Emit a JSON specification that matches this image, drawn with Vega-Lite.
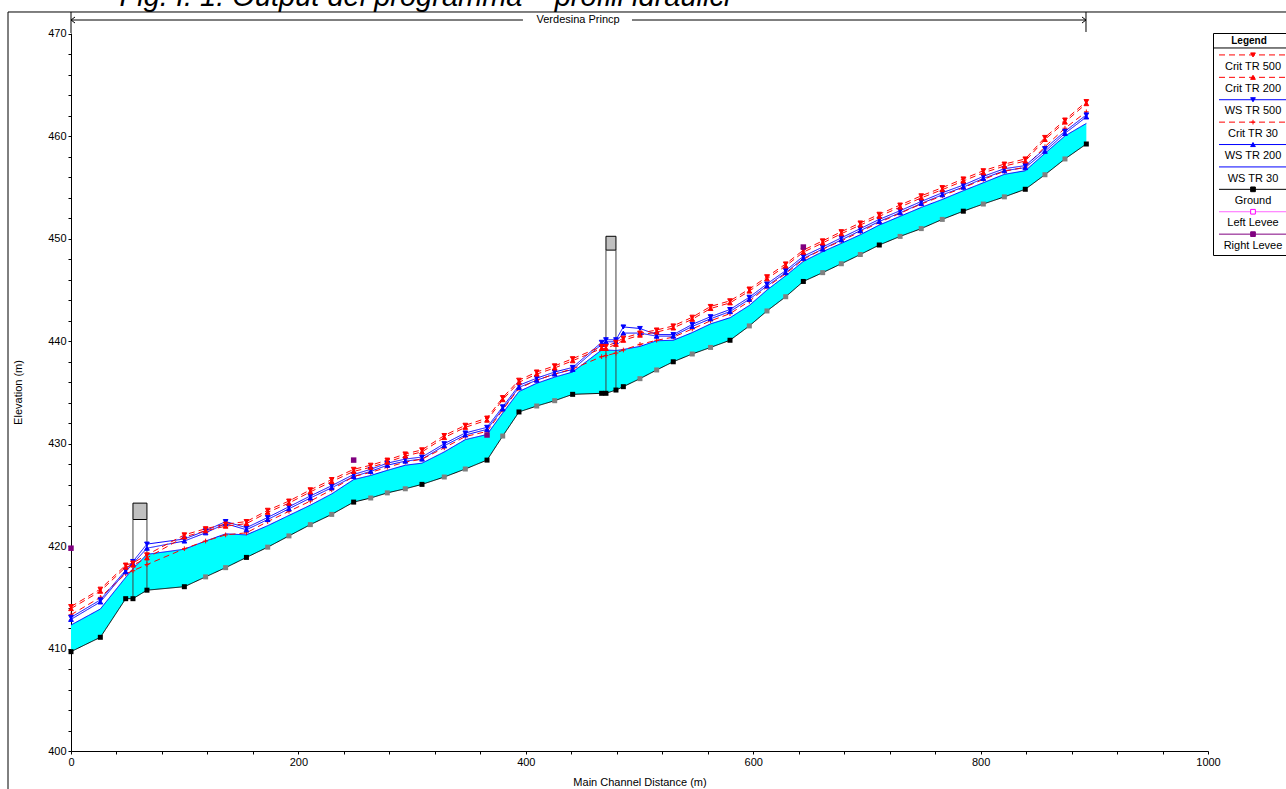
{
  "$schema": "https://vega.github.io/schema/vega-lite/v6.json",
  "autosize": {"type": "none"},
  "padding": {"left": 71, "top": 33, "right": 1215, "bottom": 756},
  "bounds": "flush",
  "spacing": 5,
  "background": "white",
  "title": {
    "text": "Fig. I. 1. Output del programma – profili idraulici",
    "anchor": "start",
    "fontSize": 29,
    "fontStyle": "italic",
    "fontWeight": "normal",
    "font": "Liberation Sans",
    "color": "#000000",
    "baseline": "alphabetic",
    "offset": 1,
    "dx": 112,
    "dy": 25
  },
  "config": {
    "view": {"stroke": null},
    "axis": {
      "grid": false,
      "labelOverlap": false,
      "domainColor": "#000000",
      "tickColor": "#000000",
      "labelColor": "#000000",
      "titleColor": "#000000",
      "titleFontWeight": "normal",
      "labelFont": "Liberation Sans Narrow, Liberation Sans, Arial, sans-serif",
      "titleFont": "Liberation Sans Narrow, Liberation Sans, Arial, sans-serif",
      "labelFontSize": 11,
      "titleFontSize": 11
    }
  },
  "datasets": {
    "stations": [
      {"x": 0, "ground": 409.7, "xs": "real", "ws30": 412.3, "ws200": 412.85, "ws500": 413.05, "crit30": 413.3, "crit200": 413.9, "crit500": 414.1},
      {"x": 25.8, "ground": 411.1, "xs": "real", "ws30": 413.86, "ws200": 414.55, "ws500": 414.75, "crit30": 415.0, "crit200": 415.6, "crit500": 415.8},
      {"x": 48.1, "ground": 414.87, "xs": "real", "ws30": 416.95, "ws200": 417.5, "ws500": 417.65, "crit30": 417.3, "crit200": 417.95, "crit500": 418.15},
      {"x": 54.5, "ground": 414.87, "xs": "real", "ws30": 417.8, "ws200": 418.3, "ws500": 418.5, "crit30": 417.6, "crit200": 418.15, "crit500": 418.35},
      {"x": 66.8, "ground": 415.7, "xs": "real", "ws30": 419.2, "ws200": 419.8, "ws500": 420.2, "crit30": 418.2, "crit200": 418.85, "crit500": 419.15},
      {"x": 99.7, "ground": 416.04, "xs": "real", "ws30": 419.7, "ws200": 420.5, "ws500": 420.7, "crit30": 419.75, "crit200": 420.9, "crit500": 421.1},
      {"x": 118.4, "ground": 417.0, "xs": "interp", "ws30": 420.5, "ws200": 421.3, "ws500": 421.5, "crit30": 420.5, "crit200": 421.5, "crit500": 421.7},
      {"x": 136, "ground": 417.9, "xs": "interp", "ws30": 421.2, "ws200": 422.2, "ws500": 422.4, "crit30": 421.1, "crit200": 421.95, "crit500": 422.15},
      {"x": 154.3, "ground": 418.9, "xs": "real", "ws30": 421.1, "ws200": 421.6, "ws500": 421.8, "crit30": 421.3, "crit200": 422.2, "crit500": 422.4},
      {"x": 173, "ground": 419.9, "xs": "interp", "ws30": 422.0, "ws200": 422.6, "ws500": 422.8, "crit30": 422.4, "crit200": 423.3, "crit500": 423.5},
      {"x": 191.7, "ground": 421.0, "xs": "interp", "ws30": 423.0, "ws200": 423.65, "ws500": 423.85, "crit30": 423.4, "crit200": 424.2, "crit500": 424.4},
      {"x": 210.5, "ground": 422.1, "xs": "interp", "ws30": 424.0, "ws200": 424.7, "ws500": 424.9, "crit30": 424.4, "crit200": 425.3, "crit500": 425.5},
      {"x": 229.3, "ground": 423.1, "xs": "interp", "ws30": 425.1, "ws200": 425.7, "ws500": 425.9, "crit30": 425.5, "crit200": 426.3, "crit500": 426.5},
      {"x": 248.6, "ground": 424.3, "xs": "real", "ws30": 426.5, "ws200": 426.8, "ws500": 427.0, "crit30": 426.8, "crit200": 427.3, "crit500": 427.5},
      {"x": 263.6, "ground": 424.7, "xs": "interp", "ws30": 426.9, "ws200": 427.3, "ws500": 427.5, "crit30": 427.2, "crit200": 427.7, "crit500": 427.9},
      {"x": 278.2, "ground": 425.2, "xs": "interp", "ws30": 427.4, "ws200": 427.9, "ws500": 428.1, "crit30": 427.7, "crit200": 428.2, "crit500": 428.4},
      {"x": 294, "ground": 425.6, "xs": "interp", "ws30": 427.9, "ws200": 428.3, "ws500": 428.5, "crit30": 428.2, "crit200": 428.8, "crit500": 429.0},
      {"x": 308.7, "ground": 426.03, "xs": "real", "ws30": 428.1, "ws200": 428.5, "ws500": 428.7, "crit30": 428.5, "crit200": 429.2, "crit500": 429.4},
      {"x": 328.3, "ground": 426.75, "xs": "interp", "ws30": 429.2, "ws200": 429.8, "ws500": 430.0, "crit30": 429.6, "crit200": 430.6, "crit500": 430.8},
      {"x": 346.8, "ground": 427.53, "xs": "interp", "ws30": 430.4, "ws200": 430.85, "ws500": 431.05, "crit30": 430.7, "crit200": 431.6, "crit500": 431.8},
      {"x": 365.9, "ground": 428.4, "xs": "real", "ws30": 430.9, "ws200": 431.4, "ws500": 431.6, "crit30": 431.2, "crit200": 432.3, "crit500": 432.5},
      {"x": 379.7, "ground": 430.75, "xs": "interp", "ws30": 433.0, "ws200": 433.4, "ws500": 433.6, "crit30": 433.3, "crit200": 434.3, "crit500": 434.5},
      {"x": 394, "ground": 433.1, "xs": "real", "ws30": 435.1, "ws200": 435.5, "ws500": 435.7, "crit30": 435.4, "crit200": 436.0, "crit500": 436.2},
      {"x": 409.6, "ground": 433.68, "xs": "interp", "ws30": 435.9, "ws200": 436.2, "ws500": 436.4, "crit30": 436.2, "crit200": 436.8, "crit500": 437.0},
      {"x": 425.4, "ground": 434.2, "xs": "interp", "ws30": 436.5, "ws200": 436.8, "ws500": 437.0, "crit30": 436.8, "crit200": 437.4, "crit500": 437.6},
      {"x": 441.2, "ground": 434.82, "xs": "real", "ws30": 437.0, "ws200": 437.25, "ws500": 437.45, "crit30": 437.3, "crit200": 438.1, "crit500": 438.3},
      {"x": 466.7, "ground": 434.92, "xs": "real", "ws30": 439.15, "ws200": 439.7, "ws500": 439.9, "crit30": 438.5, "crit200": 439.3, "crit500": 439.5},
      {"x": 470.5, "ground": 434.92, "xs": "real", "ws30": 439.15, "ws200": 439.95, "ws500": 440.15, "crit30": 438.6, "crit200": 439.3, "crit500": 439.5},
      {"x": 479.3, "ground": 435.24, "xs": "real", "ws30": 439.1, "ws200": 439.95, "ws500": 440.15, "crit30": 438.85, "crit200": 439.7, "crit500": 439.9},
      {"x": 485.8, "ground": 435.57, "xs": "real", "ws30": 439.2, "ws200": 440.8, "ws500": 441.4, "crit30": 439.15, "crit200": 440.1, "crit500": 440.3},
      {"x": 500.4, "ground": 436.35, "xs": "interp", "ws30": 439.5, "ws200": 440.8, "ws500": 441.25, "crit30": 439.7, "crit200": 440.6, "crit500": 440.8},
      {"x": 515.1, "ground": 437.2, "xs": "interp", "ws30": 440.05, "ws200": 440.5, "ws500": 440.65, "crit30": 440.1, "crit200": 440.9, "crit500": 441.1},
      {"x": 529.7, "ground": 438.0, "xs": "real", "ws30": 440.1, "ws200": 440.5, "ws500": 440.65, "crit30": 440.4, "crit200": 441.3, "crit500": 441.5},
      {"x": 546.4, "ground": 438.76, "xs": "interp", "ws30": 440.85, "ws200": 441.45, "ws500": 441.65, "crit30": 441.2, "crit200": 442.15, "crit500": 442.35},
      {"x": 562.5, "ground": 439.4, "xs": "interp", "ws30": 441.7, "ws200": 442.2, "ws500": 442.4, "crit30": 442.0, "crit200": 443.2, "crit500": 443.4},
      {"x": 579.6, "ground": 440.1, "xs": "real", "ws30": 442.3, "ws200": 442.9, "ws500": 443.1, "crit30": 442.7, "crit200": 443.75, "crit500": 443.95},
      {"x": 596.6, "ground": 441.5, "xs": "interp", "ws30": 443.5, "ws200": 444.1, "ws500": 444.3, "crit30": 443.9, "crit200": 444.9, "crit500": 445.1},
      {"x": 612.1, "ground": 442.96, "xs": "interp", "ws30": 445.0, "ws200": 445.4, "ws500": 445.6, "crit30": 445.3, "crit200": 446.1, "crit500": 446.3},
      {"x": 628.6, "ground": 444.35, "xs": "interp", "ws30": 446.4, "ws200": 446.7, "ws500": 446.9, "crit30": 446.6, "crit200": 447.35, "crit500": 447.55},
      {"x": 644.1, "ground": 445.84, "xs": "real", "ws30": 447.8, "ws200": 448.1, "ws500": 448.3, "crit30": 448.0, "crit200": 448.7, "crit500": 448.9},
      {"x": 661.1, "ground": 446.7, "xs": "interp", "ws30": 448.75, "ws200": 449.0, "ws500": 449.2, "crit30": 449.0, "crit200": 449.6, "crit500": 449.8},
      {"x": 677.5, "ground": 447.57, "xs": "interp", "ws30": 449.56, "ws200": 449.9, "ws500": 450.1, "crit30": 449.8, "crit200": 450.5, "crit500": 450.7},
      {"x": 694.2, "ground": 448.47, "xs": "interp", "ws30": 450.4, "ws200": 450.8, "ws500": 451.0, "crit30": 450.7, "crit200": 451.35, "crit500": 451.55},
      {"x": 710.9, "ground": 449.4, "xs": "real", "ws30": 451.35, "ws200": 451.7, "ws500": 451.9, "crit30": 451.6, "crit200": 452.2, "crit500": 452.4},
      {"x": 729.2, "ground": 450.24, "xs": "interp", "ws30": 452.2, "ws200": 452.55, "ws500": 452.75, "crit30": 452.5, "crit200": 453.1, "crit500": 453.3},
      {"x": 747.8, "ground": 451.0, "xs": "interp", "ws30": 453.07, "ws200": 453.45, "ws500": 453.65, "crit30": 453.4, "crit200": 454.0, "crit500": 454.2},
      {"x": 766.3, "ground": 451.9, "xs": "interp", "ws30": 453.85, "ws200": 454.3, "ws500": 454.5, "crit30": 454.2, "crit200": 454.8, "crit500": 455.0},
      {"x": 784.8, "ground": 452.7, "xs": "real", "ws30": 454.7, "ws200": 455.05, "ws500": 455.25, "crit30": 455.0, "crit200": 455.65, "crit500": 455.85},
      {"x": 802.4, "ground": 453.4, "xs": "interp", "ws30": 455.48, "ws200": 455.9, "ws500": 456.1, "crit30": 455.8, "crit200": 456.45, "crit500": 456.65},
      {"x": 820.9, "ground": 454.1, "xs": "interp", "ws30": 456.3, "ws200": 456.65, "ws500": 456.85, "crit30": 456.6, "crit200": 457.1, "crit500": 457.3},
      {"x": 839.3, "ground": 454.84, "xs": "real", "ws30": 456.65, "ws200": 456.95, "ws500": 457.15, "crit30": 457.0, "crit200": 457.6, "crit500": 457.8},
      {"x": 856.6, "ground": 456.26, "xs": "interp", "ws30": 458.35, "ws200": 458.55, "ws500": 458.8, "crit30": 459.0, "crit200": 459.7, "crit500": 459.9},
      {"x": 874.2, "ground": 457.8, "xs": "interp", "ws30": 460.05, "ws200": 460.3, "ws500": 460.5, "crit30": 460.8, "crit200": 461.4, "crit500": 461.6},
      {"x": 893, "ground": 459.26, "xs": "real", "ws30": 461.27, "ws200": 461.9, "ws500": 462.1, "crit30": 462.4, "crit200": 463.2, "crit500": 463.4}
    ],
    "bridges": [
      {"x1": 54.5, "x2": 66.8, "ground1": 414.87, "ground2": 415.7, "low": 422.6, "high": 424.2},
      {"x1": 470.5, "x2": 479.3, "ground1": 434.92, "ground2": 435.24, "low": 448.9, "high": 450.25}
    ],
    "levees": [
      {"x": 0, "elev": 419.8},
      {"x": 248.6, "elev": 428.4},
      {"x": 365.9, "elev": 430.85},
      {"x": 644.1, "elev": 449.2}
    ],
    "reachSegments": [
      {"from": 0, "to": 397.5},
      {"from": 493.4, "to": 892.7}
    ],
    "reachEnds": [
      {"x": 0, "end": "upstream"},
      {"x": 892.7, "end": "downstream"}
    ],
    "reachLabel": [
      {"x": 446, "label": "Verdesina Princp"}
    ],
    "legendRows": [
      {"name": "Crit TR 500"},
      {"name": "Crit TR 200"},
      {"name": "WS TR 500"},
      {"name": "Crit TR 30"},
      {"name": "WS TR 200"},
      {"name": "WS TR 30"},
      {"name": "Ground"},
      {"name": "Left Levee"},
      {"name": "Right Levee"}
    ]
  },
  "resolve": {"scale": {"x": "independent", "y": "independent", "color": "independent", "fill": "independent", "stroke": "independent", "shape": "independent", "strokeDash": "independent", "size": "independent"}},
  "hconcat": [
    {
      "width": 1137,
      "height": 718,
      "resolve": {"scale": {"color": "independent", "fill": "independent", "stroke": "independent", "shape": "independent", "strokeDash": "independent", "size": "independent"}, "axis": {"y": "independent"}},
      "layer": [
        {
          "data": {"name": "stations"},
          "mark": {"type": "area", "color": "#00ffff", "opacity": 1},
          "encoding": {
            "x": {"field": "x", "type": "quantitative", "scale": {"domain": [0, 1000], "nice": false, "zero": false},
              "axis": {"title": "Main Channel Distance (m)", "values": [0,40,80,120,160,200,240,280,320,360,400,440,480,520,560,600,640,680,720,760,800,840,880,920,960,1000], "format": "d", "labelExpr": "datum.value % 200 === 0 ? datum.label : ''", "tickSize": 3, "labelPadding": 2, "labelFlush": false, "labelOverlap": false, "titlePadding": 9}},
            "y": {"field": "ws30", "type": "quantitative", "scale": {"domain": [400, 470.097], "nice": false, "zero": false},
              "axis": {"orient": "left", "title": "Elevation (m)", "values": [400,410,420,430,440,450,460,470], "format": "d", "tickSize": 3, "labelPadding": 2, "labelFlush": false, "labelOverlap": false, "titlePadding": 24}},
            "y2": {"field": "ground"}
          }
        },
        {
          "data": {"name": "bridges"},
          "mark": {"type": "rect", "fill": "#c0c0c0", "stroke": "#000000", "strokeWidth": 1},
          "encoding": {
            "x": {"field": "x1", "type": "quantitative", "scale": {"domain": [0, 1000], "nice": false, "zero": false}},
            "x2": {"field": "x2"},
            "y": {"field": "low", "type": "quantitative", "scale": {"domain": [400, 470.097], "nice": false, "zero": false},
              "axis": {"orient": "left", "title": null, "values": [402,404,406,408,412,414,416,418,422,424,426,428,432,434,436,438,442,444,446,448,452,454,456,458,462,464,466,468], "labels": false, "domain": false, "tickSize": 3}},
            "y2": {"field": "high"}
          }
        },
        {
          "data": {"name": "bridges"},
          "mark": {"type": "rule", "color": "#404040", "strokeWidth": 1},
          "encoding": {
            "x": {"field": "x1", "type": "quantitative", "scale": {"domain": [0, 1000], "nice": false, "zero": false}},
            "y": {"field": "ground1", "type": "quantitative", "scale": {"domain": [400, 470.097], "nice": false, "zero": false}, "axis": null},
            "y2": {"field": "low"}
          }
        },
        {
          "data": {"name": "bridges"},
          "mark": {"type": "rule", "color": "#404040", "strokeWidth": 1},
          "encoding": {
            "x": {"field": "x2", "type": "quantitative", "scale": {"domain": [0, 1000], "nice": false, "zero": false}},
            "y": {"field": "ground2", "type": "quantitative", "scale": {"domain": [400, 470.097], "nice": false, "zero": false}, "axis": null},
            "y2": {"field": "low"}
          }
        },
        {
          "data": {"name": "stations"},
          "transform": [{"fold": ["ground", "ws30", "ws200", "crit30", "ws500", "crit200", "crit500"], "as": ["series", "value"]}],
          "mark": {"type": "line", "strokeWidth": 1},
          "encoding": {
            "x": {"field": "x", "type": "quantitative", "scale": {"domain": [0, 1000], "nice": false, "zero": false}},
            "y": {"field": "value", "type": "quantitative", "scale": {"domain": [400, 470.097], "nice": false, "zero": false}, "axis": null},
            "color": {"field": "series", "type": "nominal", "legend": null,
              "scale": {"domain": ["crit500", "crit200", "ws500", "crit30", "ws200", "ws30", "ground"], "range": ["#ff0000", "#ff0000", "#0000ff", "#ff0000", "#0000ff", "#0000ff", "#000000"]}},
            "strokeDash": {"field": "series", "type": "nominal", "legend": null,
              "scale": {"domain": ["crit500", "crit200", "ws500", "crit30", "ws200", "ws30", "ground"], "range": [[6, 4], [6, 4], [1, 0], [6, 4], [1, 0], [1, 0], [1, 0]]}}
          }
        },
        {
          "data": {"name": "stations"},
          "transform": [{"fold": ["crit30", "ws200", "ws500", "crit200", "crit500"], "as": ["series", "value"]}],
          "mark": {"type": "point", "filled": true, "strokeWidth": 1, "opacity": 1},
          "encoding": {
            "x": {"field": "x", "type": "quantitative", "scale": {"domain": [0, 1000], "nice": false, "zero": false}},
            "y": {"field": "value", "type": "quantitative", "scale": {"domain": [400, 470.097], "nice": false, "zero": false}, "axis": null},
            "shape": {"field": "series", "type": "nominal", "legend": null,
              "scale": {"domain": ["crit500", "crit200", "ws500", "crit30", "ws200"], "range": ["triangle-down", "triangle-up", "triangle-down", "M-1,0H1M0,-1V1", "triangle-up"]}},
            "fill": {"field": "series", "type": "nominal", "legend": null,
              "scale": {"domain": ["crit500", "crit200", "ws500", "crit30", "ws200"], "range": ["#ff0000", "#ff0000", "#0000ff", "transparent", "#0000ff"]}},
            "stroke": {"field": "series", "type": "nominal", "legend": null,
              "scale": {"domain": ["crit500", "crit200", "ws500", "crit30", "ws200"], "range": ["#ff0000", "#ff0000", "#0000ff", "#ff0000", "#0000ff"]}},
            "size": {"field": "series", "type": "nominal", "legend": null,
              "scale": {"domain": ["crit500", "crit200", "ws500", "crit30", "ws200"], "range": [22, 22, 22, 40, 22]}}
          }
        },
        {
          "data": {"name": "stations"},
          "mark": {"type": "square", "size": 25, "opacity": 1},
          "encoding": {
            "x": {"field": "x", "type": "quantitative", "scale": {"domain": [0, 1000], "nice": false, "zero": false}},
            "y": {"field": "ground", "type": "quantitative", "scale": {"domain": [400, 470.097], "nice": false, "zero": false}, "axis": null},
            "color": {"field": "xs", "type": "nominal", "legend": null, "scale": {"domain": ["real", "interp"], "range": ["#000000", "#808080"]}}
          }
        },
        {
          "data": {"name": "levees"},
          "mark": {"type": "square", "size": 30, "color": "#800080", "opacity": 1},
          "encoding": {
            "x": {"field": "x", "type": "quantitative", "scale": {"domain": [0, 1000], "nice": false, "zero": false}},
            "y": {"field": "elev", "type": "quantitative", "scale": {"domain": [400, 470.097], "nice": false, "zero": false}, "axis": null}
          }
        },
        {
          "data": {"name": "reachSegments"},
          "mark": {"type": "rule", "color": "#000000", "strokeWidth": 1},
          "encoding": {
            "x": {"field": "from", "type": "quantitative", "scale": {"domain": [0, 1000], "nice": false, "zero": false}},
            "x2": {"field": "to"},
            "y": {"datum": 471.366, "type": "quantitative", "scale": {"domain": [400, 470.097], "nice": false, "zero": false}, "axis": null}
          }
        },
        {
          "data": {"name": "reachEnds"},
          "mark": {"type": "point", "filled": false, "strokeWidth": 1, "color": "#000000", "opacity": 1, "size": 16},
          "encoding": {
            "x": {"field": "x", "type": "quantitative", "scale": {"domain": [0, 1000], "nice": false, "zero": false}},
            "y": {"datum": 471.366, "type": "quantitative", "scale": {"domain": [400, 470.097], "nice": false, "zero": false}, "axis": null},
            "shape": {"field": "end", "type": "nominal", "legend": null, "scale": {"domain": ["upstream", "downstream"], "range": ["M2,-1.5L0,0L2,1.5", "M-2,-1.5L0,0L-2,1.5"]}}
          }
        },
        {
          "data": {"name": "reachLabel"},
          "mark": {"type": "text", "font": "Liberation Sans Narrow, Liberation Sans, Arial, sans-serif", "fontSize": 11, "color": "#000000", "baseline": "middle", "align": "center"},
          "encoding": {
            "x": {"field": "x", "type": "quantitative", "scale": {"domain": [0, 1000], "nice": false, "zero": false}},
            "y": {"datum": 471.366, "type": "quantitative", "scale": {"domain": [400, 470.097], "nice": false, "zero": false}, "axis": null},
            "text": {"field": "label"}
          }
        },
        {
          "data": {"values": [{}]},
          "mark": {"type": "rule", "color": "#000000", "strokeWidth": 1},
          "encoding": {
            "x": {"datum": 892.7, "type": "quantitative", "scale": {"domain": [0, 1000], "nice": false, "zero": false}},
            "y": {"datum": 470.195, "type": "quantitative", "scale": {"domain": [400, 470.097], "nice": false, "zero": false}, "axis": null},
            "y2": {"datum": 472.148}
          }
        },
        {
          "data": {"values": [{}]},
          "mark": {"type": "rule", "color": "#000000", "strokeWidth": 1},
          "encoding": {
            "x": {"datum": 0, "type": "quantitative", "scale": {"domain": [0, 1000], "nice": false, "zero": false}},
            "y": {"datum": 470.097, "type": "quantitative", "scale": {"domain": [400, 470.097], "nice": false, "zero": false}, "axis": null},
            "y2": {"datum": 472.148}
          }
        },
        {
          "data": {"values": [{}]},
          "mark": {"type": "rule", "color": "#000000", "strokeWidth": 1},
          "encoding": {
            "x": {"datum": -55.4, "type": "quantitative", "scale": {"domain": [0, 1000], "nice": false, "zero": false}},
            "y": {"datum": 396, "type": "quantitative", "scale": {"domain": [400, 470.097], "nice": false, "zero": false}, "axis": null},
            "y2": {"datum": 472.148}
          }
        },
        {
          "data": {"values": [{}]},
          "mark": {"type": "rule", "color": "#000000", "strokeWidth": 1},
          "encoding": {
            "x": {"datum": -55.4, "type": "quantitative", "scale": {"domain": [0, 1000], "nice": false, "zero": false}},
            "x2": {"datum": 1072},
            "y": {"datum": 472.148, "type": "quantitative", "scale": {"domain": [400, 470.097], "nice": false, "zero": false}, "axis": null}
          }
        }
      ]
    },
    {
      "width": 80,
      "height": 222,
      "view": {"stroke": "#000000", "strokeWidth": 1, "fill": "#ffffff"},
      "title": {"text": "Legend", "fontSize": 10, "fontWeight": "bold", "font": "Liberation Sans", "color": "#000000", "anchor": "middle", "baseline": "middle", "offset": 0, "dy": 18, "dx": -4},
      "data": {"name": "legendRows"},
      "layer": [
        {
          "data": {"values": [{}]},
          "mark": {"type": "rule", "color": "#000000", "strokeWidth": 1},
          "encoding": {
            "x": {"datum": 0, "type": "quantitative", "scale": {"domain": [0, 1], "nice": false, "zero": false}, "axis": null},
            "x2": {"datum": 1},
            "y": {"datum": "Crit TR 500", "type": "nominal", "bandPosition": 0, "axis": null,
              "scale": {"type": "band", "domain": ["Crit TR 500", "Crit TR 200", "WS TR 500", "Crit TR 30", "WS TR 200", "WS TR 30", "Ground", "Left Levee", "Right Levee"], "paddingInner": 0, "paddingOuter": 0.455, "align": 0.735}}
          }
        },
        {
          "mark": {"type": "rule", "strokeWidth": 1},
          "encoding": {
            "x": {"datum": 0.075, "type": "quantitative", "scale": {"domain": [0, 1], "nice": false, "zero": false}, "axis": null},
            "x2": {"datum": 1},
            "y": {"field": "name", "type": "nominal", "bandPosition": 0.31, "axis": null,
              "scale": {"type": "band", "domain": ["Crit TR 500", "Crit TR 200", "WS TR 500", "Crit TR 30", "WS TR 200", "WS TR 30", "Ground", "Left Levee", "Right Levee"], "paddingInner": 0, "paddingOuter": 0.455, "align": 0.735}},
            "color": {"field": "name", "type": "nominal", "legend": null,
              "scale": {"domain": ["Crit TR 500", "Crit TR 200", "WS TR 500", "Crit TR 30", "WS TR 200", "WS TR 30", "Ground", "Left Levee", "Right Levee"], "range": ["#ff0000", "#ff0000", "#0000ff", "#ff0000", "#0000ff", "#0000ff", "#000000", "#ff66ff", "#800080"]}},
            "strokeDash": {"field": "name", "type": "nominal", "legend": null,
              "scale": {"domain": ["Crit TR 500", "Crit TR 200", "WS TR 500", "Crit TR 30", "WS TR 200", "WS TR 30", "Ground", "Left Levee", "Right Levee"], "range": [[6, 4], [6, 4], [1, 0], [6, 4], [1, 0], [1, 0], [1, 0], [1, 0], [1, 0]]}}
          }
        },
        {
          "transform": [{"filter": "datum.name !== 'WS TR 30'"}],
          "mark": {"type": "point", "filled": true, "strokeWidth": 1, "opacity": 1},
          "encoding": {
            "x": {"datum": 0.5, "type": "quantitative", "scale": {"domain": [0, 1], "nice": false, "zero": false}, "axis": null},
            "y": {"field": "name", "type": "nominal", "bandPosition": 0.31, "axis": null,
              "scale": {"type": "band", "domain": ["Crit TR 500", "Crit TR 200", "WS TR 500", "Crit TR 30", "WS TR 200", "WS TR 30", "Ground", "Left Levee", "Right Levee"], "paddingInner": 0, "paddingOuter": 0.455, "align": 0.735}},
            "shape": {"field": "name", "type": "nominal", "legend": null,
              "scale": {"domain": ["Crit TR 500", "Crit TR 200", "WS TR 500", "Crit TR 30", "WS TR 200", "Ground", "Left Levee", "Right Levee"], "range": ["triangle-down", "triangle-up", "triangle-down", "M-1,0H1M0,-1V1", "triangle-up", "square", "square", "square"]}},
            "fill": {"field": "name", "type": "nominal", "legend": null,
              "scale": {"domain": ["Crit TR 500", "Crit TR 200", "WS TR 500", "Crit TR 30", "WS TR 200", "Ground", "Left Levee", "Right Levee"], "range": ["#ff0000", "#ff0000", "#0000ff", "transparent", "#0000ff", "#000000", "#ffffff", "#800080"]}},
            "stroke": {"field": "name", "type": "nominal", "legend": null,
              "scale": {"domain": ["Crit TR 500", "Crit TR 200", "WS TR 500", "Crit TR 30", "WS TR 200", "Ground", "Left Levee", "Right Levee"], "range": ["#ff0000", "#ff0000", "#0000ff", "#ff0000", "#0000ff", "#000000", "#ff00ff", "#800080"]}},
            "size": {"field": "name", "type": "nominal", "legend": null,
              "scale": {"domain": ["Crit TR 500", "Crit TR 200", "WS TR 500", "Crit TR 30", "WS TR 200", "Ground", "Left Levee", "Right Levee"], "range": [22, 22, 22, 40, 22, 22, 22, 22]}}
          }
        },
        {
          "mark": {"type": "text", "font": "Liberation Sans", "fontSize": 11, "color": "#000000", "baseline": "middle", "align": "center"},
          "encoding": {
            "x": {"datum": 0.5, "type": "quantitative", "scale": {"domain": [0, 1], "nice": false, "zero": false}, "axis": null},
            "y": {"field": "name", "type": "nominal", "bandPosition": 0.83, "axis": null,
              "scale": {"type": "band", "domain": ["Crit TR 500", "Crit TR 200", "WS TR 500", "Crit TR 30", "WS TR 200", "WS TR 30", "Ground", "Left Levee", "Right Levee"], "paddingInner": 0, "paddingOuter": 0.455, "align": 0.735}},
            "text": {"field": "name"}
          }
        }
      ]
    }
  ]
}
